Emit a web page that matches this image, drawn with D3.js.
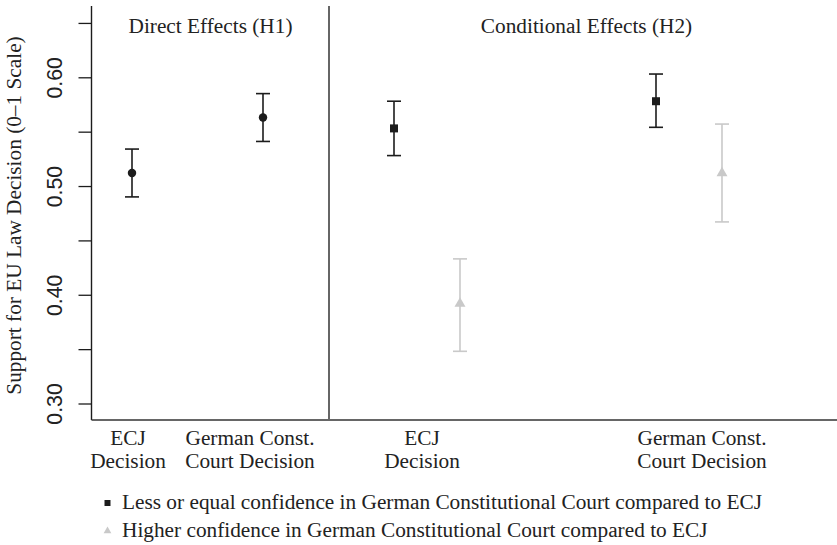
<!DOCTYPE html>
<html>
<head>
<meta charset="utf-8">
<script src="https://cdn.jsdelivr.net/npm/d3@7"></script>
<style>
  html, body { margin: 0; padding: 0; background: #fff; }
  svg { display: block; font-family: "Liberation Serif", "DejaVu Serif", serif; }
</style>
</head>
<body>
<svg id="chart" width="837" height="545"></svg>
<script>
// ---- data ----
const categories = ["ECJ Decision", "German Const. Court Decision"];
const categoryLines = [["ECJ", "Decision"], ["German Const.", "Court Decision"]];
const panels = ["Direct Effects (H1)", "Conditional Effects (H2)"];

// Direct effects (H1)
const directMean = [0.512, 0.563];
const directLow  = [0.490, 0.541];
const directHigh = [0.534, 0.585];

// Conditional effects (H2)
const seriesNames = [
  "Less or equal confidence in German Constitutional Court compared to ECJ",
  "Higher confidence in German Constitutional Court compared to ECJ"
];
const lowConfMean = [0.553, 0.578];
const lowConfLow  = [0.528, 0.554];
const lowConfHigh = [0.578, 0.603];
const highConfMean = [0.392, 0.512];
const highConfLow  = [0.348, 0.467];
const highConfHigh = [0.433, 0.557];

const yTicks = [0.30, 0.35, 0.40, 0.45, 0.50, 0.55, 0.60, 0.65];
const yTickLabels = ["0.30", "", "0.40", "", "0.50", "", "0.60", ""];
const yTitle = "Support for EU Law Decision (0–1 Scale)";

// ---- layout ----
const svg = d3.select("#chart");
const axisX = 91.5, plotTop = 6, plotBottom = 420, divX = 329, rightEdge = 837;
const dark = "#1c1c1c", grey = "#c9c9c9";
const fs = 21.3;

const y = d3.scaleLinear().domain([0.30, 0.60]).range([403.5, 77.3]);

const xLeft = d3.scalePoint().domain(categories).range([132, 263]);
const xLeftLab = d3.scalePoint().domain(categories).range([128, 250]);
const xRight = d3.scalePoint().domain(categories).range([427, 689]);
const xRightLab = d3.scalePoint().domain(categories).range([422, 702]);
const xSub = d3.scalePoint().domain(seriesNames).range([-33, 33]);

// Y axis
const yAxis = d3.axisLeft(y).tickValues(yTicks).tickSize(13).tickFormat("");
const gy = svg.append("g").attr("transform", `translate(${axisX},0)`).call(yAxis);
gy.select(".domain").remove();
gy.selectAll(".tick line").attr("stroke", dark).attr("stroke-width", 1.3);
gy.selectAll(".tick").each(function(d, i) {
  if (!yTickLabels[i]) return;
  d3.select(this).append("text")
    .attr("transform", `translate(-29.5,0) rotate(-90)`)
    .attr("text-anchor", "middle")
    .attr("fill", "#222")
    .attr("font-size", fs)
    .text(yTickLabels[i]);
});
svg.append("line").attr("x1", axisX).attr("x2", axisX).attr("y1", plotTop).attr("y2", plotBottom)
  .attr("stroke", dark).attr("stroke-width", 1.4);
svg.append("line").attr("x1", axisX).attr("x2", rightEdge).attr("y1", plotBottom).attr("y2", plotBottom)
  .attr("stroke", "#333").attr("stroke-width", 1.4);
svg.append("line").attr("x1", divX).attr("x2", divX).attr("y1", plotTop).attr("y2", plotBottom)
  .attr("stroke", "#666").attr("stroke-width", 2);

svg.append("text")
  .attr("transform", `translate(20.5,${(plotTop + plotBottom) / 2 + 2.5}) rotate(-90)`)
  .attr("text-anchor", "middle").attr("font-size", fs).attr("fill", "#222")
  .text(yTitle);

// Panel titles
svg.append("text").attr("x", 210.5).attr("y", 33).attr("text-anchor", "middle")
  .attr("font-size", fs).attr("fill", "#222").text(panels[0]);
svg.append("text").attr("x", 586.5).attr("y", 33).attr("text-anchor", "middle")
  .attr("font-size", fs).attr("fill", "#222").text(panels[1]);

// Category labels
function catLabels(scale) {
  categories.forEach((c, i) => {
    const t = svg.append("text").attr("text-anchor", "middle").attr("font-size", fs).attr("fill", "#222");
    categoryLines[i].forEach((ln, j) => {
      t.append("tspan").attr("x", scale(c)).attr("y", 445 + j * 22.5).text(ln);
    });
  });
}
catLabels(xLeftLab);
catLabels(xRightLab);

// Error bars
function errBar(x, lo, hi, color) {
  const g = svg.append("g").attr("stroke", color).attr("stroke-width", 1.6);
  g.append("line").attr("x1", x).attr("x2", x).attr("y1", y(lo)).attr("y2", y(hi));
  g.append("line").attr("x1", x - 7).attr("x2", x + 7).attr("y1", y(lo)).attr("y2", y(lo));
  g.append("line").attr("x1", x - 7).attr("x2", x + 7).attr("y1", y(hi)).attr("y2", y(hi));
}

const circleSym = d3.symbol().type(d3.symbolCircle).size(56);
const squareSym = d3.symbol().type(d3.symbolSquare).size(64);
const triSym = d3.symbol().type(d3.symbolTriangle).size(52);

categories.forEach((c, i) => {
  const x = xLeft(c);
  errBar(x, directLow[i], directHigh[i], dark);
  svg.append("path").attr("d", circleSym()).attr("fill", dark)
    .attr("transform", `translate(${x},${y(directMean[i])})`);
});

categories.forEach((c, i) => {
  const x1 = xRight(c) + xSub(seriesNames[0]);
  errBar(x1, lowConfLow[i], lowConfHigh[i], dark);
  svg.append("path").attr("d", squareSym()).attr("fill", dark)
    .attr("transform", `translate(${x1},${y(lowConfMean[i])})`);
  const x2 = xRight(c) + xSub(seriesNames[1]);
  errBar(x2, highConfLow[i], highConfHigh[i], grey);
  svg.append("path").attr("d", triSym()).attr("fill", grey)
    .attr("transform", `translate(${x2},${y(highConfMean[i])})`);
});

// Legend
const legSym = [d3.symbol().type(d3.symbolSquare).size(36), d3.symbol().type(d3.symbolTriangle).size(26)];
const legCol = [dark, grey];
seriesNames.forEach((s, i) => {
  const yy = 509 + i * 28;
  svg.append("path").attr("d", legSym[i]()).attr("fill", legCol[i])
    .attr("transform", `translate(107.5,${yy - 6})`);
  svg.append("text").attr("x", 122).attr("y", yy).attr("font-size", fs).attr("fill", "#222").text(s);
});
</script>
</body>
</html>
